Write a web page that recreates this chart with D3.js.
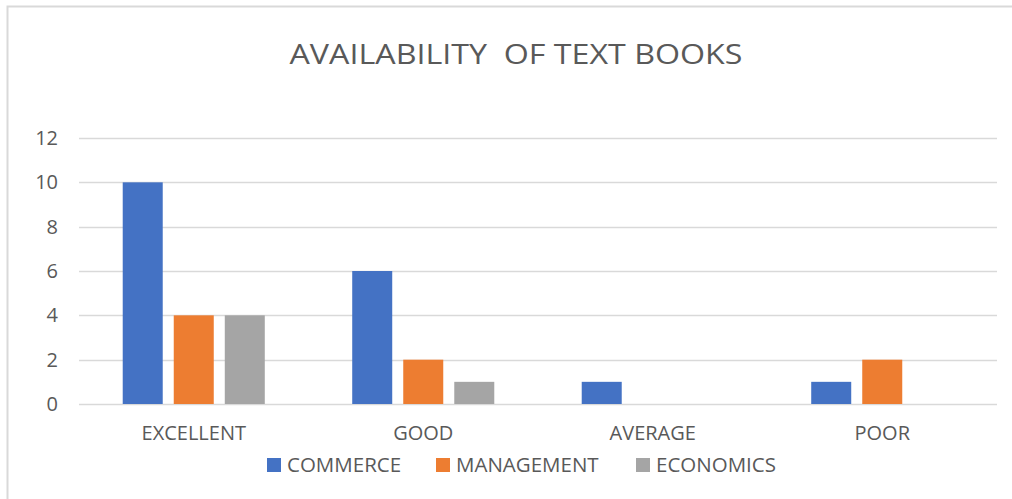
<!DOCTYPE html>
<html>
<head>
<meta charset="utf-8">
<script src="https://cdn.jsdelivr.net/npm/d3@7"></script>
<style>
  html, body { margin: 0; padding: 0; background: #fff; }
  svg { display: block; }
  text { font-family: "Open Sans", "Liberation Sans", sans-serif; fill: #595959; }
</style>
</head>
<body>
<svg id="chart" width="1012" height="499"></svg>
<script>
const title = "AVAILABILITY  OF TEXT BOOKS";
const categories = ["EXCELLENT", "GOOD", "AVERAGE", "POOR"];
const seriesNames = ["COMMERCE", "MANAGEMENT", "ECONOMICS"];
const commerce = [10, 6, 1, 1];
const management = [4, 2, 0, 2];
const economics = [4, 1, 0, 0];
const yTicks = [0, 2, 4, 6, 8, 10, 12];
const colors = ["#4472C4", "#ED7D31", "#A5A5A5"];

const seriesValues = [commerce, management, economics];
const data = categories.map((c, i) => ({
  category: c,
  values: seriesNames.map((s, j) => ({ series: s, value: seriesValues[j][i] }))
}));

const svg = d3.select("#chart");
const W = 1012, H = 499;

// chart frame
svg.append("path")
  .attr("d", `M7.5,${H} V6.5 H${W}`)
  .attr("fill", "none").attr("stroke", "#d9d9d9").attr("stroke-width", 2);

const plot = { left: 79, right: 997, top: 138, bottom: 404 };

const x0 = d3.scaleBand().domain(categories).range([plot.left, plot.right]).paddingInner(0).paddingOuter(0);
const groupW = x0.bandwidth() * 0.619;
const x1 = d3.scaleBand().domain(seriesNames)
  .range([-groupW / 2, groupW / 2]).paddingInner(0.216).paddingOuter(0);
const y = d3.scaleLinear().domain([0, 12]).range([plot.bottom, plot.top]);

// gridlines
svg.append("g").selectAll("line").data(yTicks).join("line")
  .attr("x1", plot.left).attr("x2", plot.right)
  .attr("y1", d => Math.round(y(d)) + 0.5).attr("y2", d => Math.round(y(d)) + 0.5)
  .attr("stroke", "#d9d9d9").attr("stroke-width", 1.5);

// y axis labels
const yAxis = d3.axisLeft(y).tickValues(yTicks).tickSize(0).tickPadding(0);
const gy = svg.append("g").attr("transform", `translate(58,0)`).call(yAxis);
gy.select(".domain").remove();
gy.selectAll("text").style("font-size", "20px").attr("fill", "#595959")
  .style("font-family", "'Open Sans', sans-serif");

// bars
const groups = svg.append("g").selectAll("g").data(data).join("g")
  .attr("transform", d => `translate(${x0(d.category) + x0.bandwidth() / 2},0)`);
groups.selectAll("rect").data(d => d.values).join("rect")
  .attr("x", d => x1(d.series))
  .attr("width", x1.bandwidth())
  .attr("y", d => y(d.value))
  .attr("height", d => y(0) - y(d.value))
  .attr("fill", (d, i) => colors[i]);

// x axis labels
const xAxis = d3.axisBottom(x0).tickSize(0).tickPadding(0);
const gx = svg.append("g").attr("transform", `translate(0,${plot.bottom + 22})`).call(xAxis);
gx.select(".domain").remove();
gx.selectAll("text").style("font-size", "20px").attr("fill", "#595959")
  .style("font-family", "'Open Sans', sans-serif");

// title
svg.append("text")
  .attr("x", 516).attr("y", 64)
  .attr("text-anchor", "middle")
  .style("font-size", "28px")
  .style("white-space", "pre")
  .attr("xml:space", "preserve")
  .attr("textLength", 453)
  .attr("lengthAdjust", "spacingAndGlyphs")
  .text(title);

// legend
const legendItems = [
  { name: seriesNames[0], x: 267 },
  { name: seriesNames[1], x: 436 },
  { name: seriesNames[2], x: 636 }
];
const lg = svg.append("g").selectAll("g").data(legendItems).join("g")
  .attr("transform", d => `translate(${d.x},458)`);
lg.append("rect").attr("width", 14).attr("height", 14).attr("fill", (d, i) => colors[i]);
lg.append("text").attr("x", 20).attr("y", 14).style("font-size", "20.5px").text(d => d.name);
</script>
</body>
</html>
